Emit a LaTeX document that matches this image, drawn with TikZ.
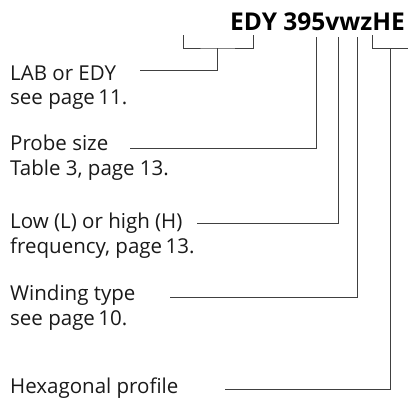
\documentclass[tikz,border=0pt]{standalone}
\usepackage{fontspec}
\setmainfont{Open Sans}
\begin{document}
\begin{tikzpicture}[x=1pt,y=-1pt,
  lbl/.style={anchor=base west,inner sep=0pt,font=\fontsize{20.5}{24}\selectfont,text=black!90},
  ttl/.style={anchor=base east,inner sep=0pt,font=\fontsize{24.5}{28}\selectfont\bfseries},
  conn/.style={draw=black!75,line width=1pt}]
\useasboundingbox (0,0) rectangle (408,400);
\node[ttl] (title) at (405,30) {EDY 395vwzHE};
% labels
\node[lbl] (a1) at (10,80) {LAB or EDY};
\node[lbl] (a2) at (10,104) {see page\,11.};
\node[lbl] (b1) at (10,150) {Probe size};
\node[lbl] (b2) at (10,175) {Table 3, page 13.};
\node[lbl] (c1) at (10,228) {Low (L) or high (H)};
\node[lbl] (c2) at (10,253) {frequency, page\,13.};
\node[lbl] (d1) at (10,300) {Winding type};
\node[lbl] (d2) at (10,325) {see page\,10.};
\node[lbl] (e1) at (10,393) {Hexagonal profile};
% coordinates
\coordinate (a0) at (140,70);
\coordinate (b0) at (130,148);
\coordinate (c0) at (197,223);
\coordinate (d0) at (170,297);
\coordinate (e0) at (225,389);
\coordinate (edyL) at (183,35);
\coordinate (edyR) at (253,35);
\coordinate (edyM) at (217,48);
\coordinate (five) at (316,37);
\coordinate (vv) at (338,37);
\coordinate (zz) at (357,37);
\coordinate (heL) at (372,35);
\coordinate (heR) at (408,48);
\coordinate (heM) at (390,48);
% connectors
\draw[conn] (edyL) |- (edyM) -| (edyR);
\draw[conn] (a0) -| (edyM);
\draw[conn] (b0) -| (five);
\draw[conn] (c0) -| (vv);
\draw[conn] (d0) -| (zz);
\draw[conn] (heL) |- (heR);
\draw[conn] (e0) -| (heM);
\end{tikzpicture}
\end{document}
